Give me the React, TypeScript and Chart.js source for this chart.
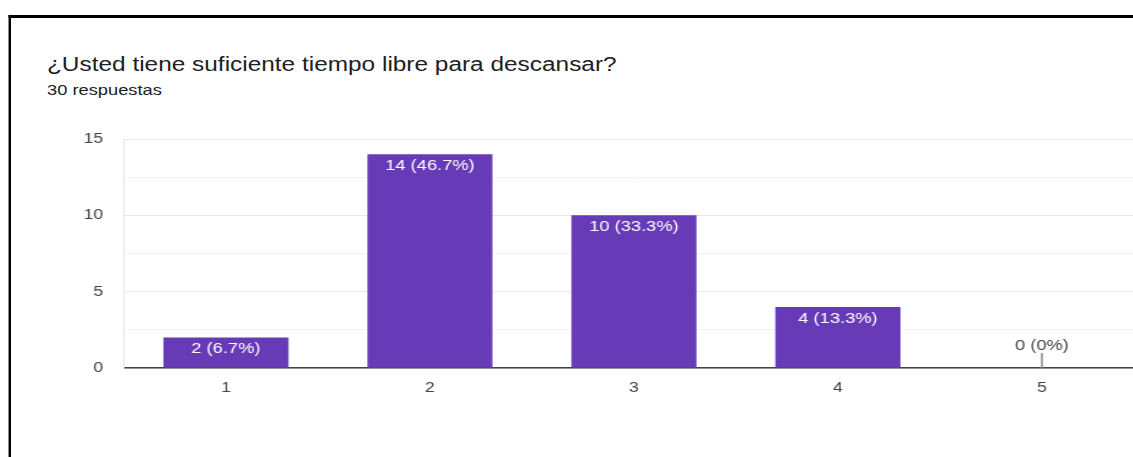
import React, { useEffect, useRef } from "react";
import { Chart, registerables } from "chart.js";

Chart.register(...registerables);

const TITLE = "¿Usted tiene suficiente tiempo libre para descansar?";
const SUBTITLE = "30 respuestas";
const categories = ["1", "2", "3", "4", "5"];
const counts = [2, 14, 10, 4, 0];
const yTicksMajor = [0, 5, 10, 15];

const SX = 1.22; // horizontal stretch of the reference screenshot
const FONT = "'Liberation Sans', Arial, sans-serif";
const PURPLE = "#673ab7";

const total = counts.reduce((a, b) => a + b, 0);
const pctLabel = (v: number) => {
  const p = Math.round((v / total) * 1000) / 10;
  const s = Number.isInteger(p) ? String(p) : p.toFixed(1);
  return `${v} (${s}%)`;
};

const labelPlugin = {
  id: "barLabels",
  afterDatasetsDraw(chart: any) {
    const ctx = chart.ctx;
    const meta = chart.getDatasetMeta(0);
    ctx.save();
    ctx.font = `15px ${FONT}`;
    ctx.textAlign = "center";
    ctx.textBaseline = "middle";
    meta.data.forEach((el: any, i: number) => {
      const v = counts[i];
      const txt = pctLabel(v);
      if (v > 0) {
        ctx.fillStyle = "#ffffff";
        ctx.fillText(txt, el.x, el.y + 11.5);
      } else {
        ctx.strokeStyle = "#8a8a8a";
        ctx.lineWidth = 1.5;
        ctx.beginPath();
        ctx.moveTo(el.x, el.base);
        ctx.lineTo(el.x, el.base - 15);
        ctx.stroke();
        ctx.fillStyle = "#444444";
        ctx.fillText(txt, el.x, el.base - 22);
      }
    });
    ctx.restore();
  },
};

export default function App() {
  const ref = useRef<HTMLCanvasElement | null>(null);

  useEffect(() => {
    if (!ref.current) return;
    const chart = new Chart(ref.current, {
      type: "bar",
      data: {
        labels: categories,
        datasets: [
          {
            data: counts,
            backgroundColor: PURPLE,
            borderWidth: 0,
            categoryPercentage: 1,
            barPercentage: 0.613,
          },
        ],
      },
      options: {
        animation: false,
        responsive: false,
        devicePixelRatio: 1,
        layout: { padding: { left: 0, top: 139, right: 12.4, bottom: 49 } },
        plugins: {
          legend: { display: false },
          tooltip: { enabled: false },
          title: { display: false },
        },
        scales: {
          x: {
            grid: { display: false, drawTicks: false },
            border: { display: true, color: "#444444", width: 1.5 },
            ticks: {
              padding: 11,
              color: "#444444",
              font: { family: FONT, size: 14.5 },
            },
            afterFit: (s: any) => {
              s.height = 40;
            },
          },
          y: {
            min: 0,
            max: 15,
            grid: {
              drawTicks: false,
              color: (c: any) =>
                yTicksMajor.includes(c.tick.value) ? "#e6e6e6" : "#f3f3f3",
            },
            border: { display: true, color: "#e6e6e6", width: 1 },
            ticks: {
              stepSize: 2.5,
              padding: 17,
              color: "#444444",
              font: { family: FONT, size: 14.5 },
              callback: (v: any) => (yTicksMajor.includes(Number(v)) ? String(v) : ""),
            },
            afterFit: (s: any) => {
              s.width = 101.6;
            },
          },
        },
      },
      plugins: [labelPlugin],
    });
    return () => chart.destroy();
  }, []);

  return (
    <div
      style={{
        position: "fixed",
        left: 0,
        top: 0,
        width: 1133 / SX,
        height: 457,
        overflow: "hidden",
        transform: `scaleX(${SX})`,
        transformOrigin: "0 0",
        background: "#ffffff",
      }}
    >
      <div
        style={{
          position: "absolute",
          left: 6.6,
          top: 15,
          right: -10,
          bottom: -10,
          borderLeft: "2.46px solid #000",
          borderTop: "3px solid #000",
        }}
      />
      <div
        style={{
          position: "absolute",
          left: 38.5,
          top: 54,
          font: `20px ${FONT}`,
          lineHeight: "20px",
          color: "#202124",
          whiteSpace: "nowrap",
        }}
      >
        {TITLE}
      </div>
      <div
        style={{
          position: "absolute",
          left: 38.5,
          top: 82.3,
          font: `15px ${FONT}`,
          lineHeight: "15px",
          color: "#202124",
          whiteSpace: "nowrap",
        }}
      >
        {SUBTITLE}
      </div>
      <canvas
        ref={ref}
        width={950}
        height={457}
        style={{ position: "absolute", left: 0, top: 0, width: 950, height: 457 }}
      />
    </div>
  );
}
